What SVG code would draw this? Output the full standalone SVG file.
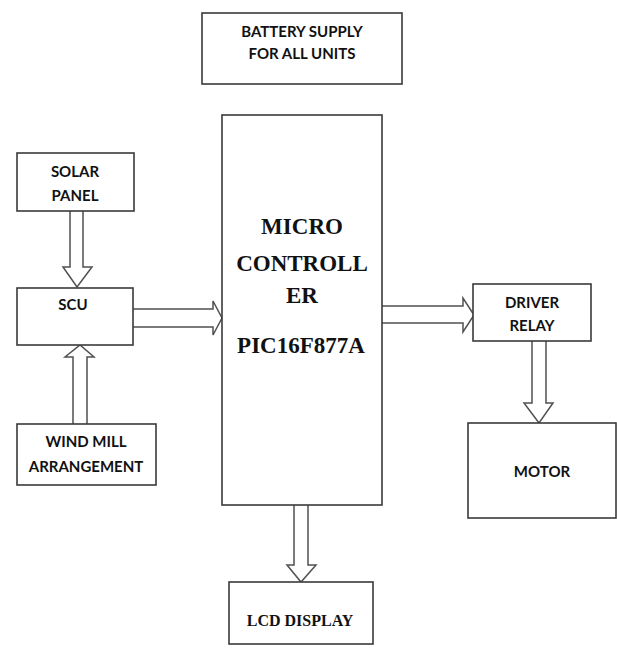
<svg xmlns="http://www.w3.org/2000/svg" width="617" height="648" viewBox="0 0 617 648">
<style>
.box{fill:#fff;stroke:#3a3a3a;stroke-width:1.6}
.arr{fill:#fff;stroke:#505050;stroke-width:1.5;stroke-linejoin:miter}
.s{font-family:Lato,"Liberation Sans",Arial,sans-serif;font-weight:bold;font-size:15px;fill:#111;text-anchor:middle}
.t{font-family:"Liberation Serif","Times New Roman",serif;font-weight:bold;fill:#111;text-anchor:middle}
</style>
<rect width="617" height="648" fill="#fff"/>
<g id="connectors">
<path class="arr" d="M70,211 V267 H63 L77,287 L92,267 H83 V211"/>
<path class="arr" d="M73,424 V357 H65 L80,345 L94,357 H87 V424"/>
<path class="arr" d="M133,309 H213 V301 L222,318 L213,335 V327 H133"/>
<path class="arr" d="M382,306 H463 V298 L474,315 L463,332 V323 H382"/>
<path class="arr" d="M532,341 V403 H524 L539,423 L553,403 H546 V341"/>
<path class="arr" d="M294,505 V565 H287 L301,582 L316,565 H308 V505"/>
</g>
<g id="battery">
<rect class="box" x="202" y="13" width="200" height="71"/>
<text class="s" x="302" y="37">BATTERY SUPPLY</text>
<text class="s" x="302" y="59">FOR ALL UNITS</text>
</g>
<g id="solar">
<rect class="box" x="17" y="153" width="117" height="58"/>
<text class="s" x="75" y="177">SOLAR</text>
<text class="s" x="75" y="201">PANEL</text>
</g>
<g id="scu">
<rect class="box" x="17" y="288" width="116" height="57"/>
<text class="s" x="73" y="310">SCU</text>
</g>
<g id="windmill">
<rect class="box" x="17" y="424" width="139" height="61"/>
<text class="s" x="86" y="447">WIND MILL</text>
<text class="s" x="86" y="472">ARRANGEMENT</text>
</g>
<g id="microcontroller">
<rect class="box" x="222" y="115" width="160" height="390"/>
<text class="t" font-size="23" x="302" y="234">MICRO</text>
<text class="t" font-size="23" x="302" y="271">CONTROLL</text>
<text class="t" font-size="23" x="302" y="303">ER</text>
<text class="t" font-size="23" x="301" y="353">PIC16F877A</text>
</g>
<g id="driver">
<rect class="box" x="473" y="284" width="118" height="57"/>
<text class="s" x="532" y="308">DRIVER</text>
<text class="s" x="532" y="331">RELAY</text>
</g>
<g id="motor">
<rect class="box" x="468" y="423" width="148" height="95"/>
<text class="s" x="542" y="477">MOTOR</text>
</g>
<g id="lcd">
<rect class="box" x="229" y="582" width="144" height="62"/>
<text class="t" font-size="16" x="300" y="626">LCD DISPLAY</text>
</g>
</svg>
